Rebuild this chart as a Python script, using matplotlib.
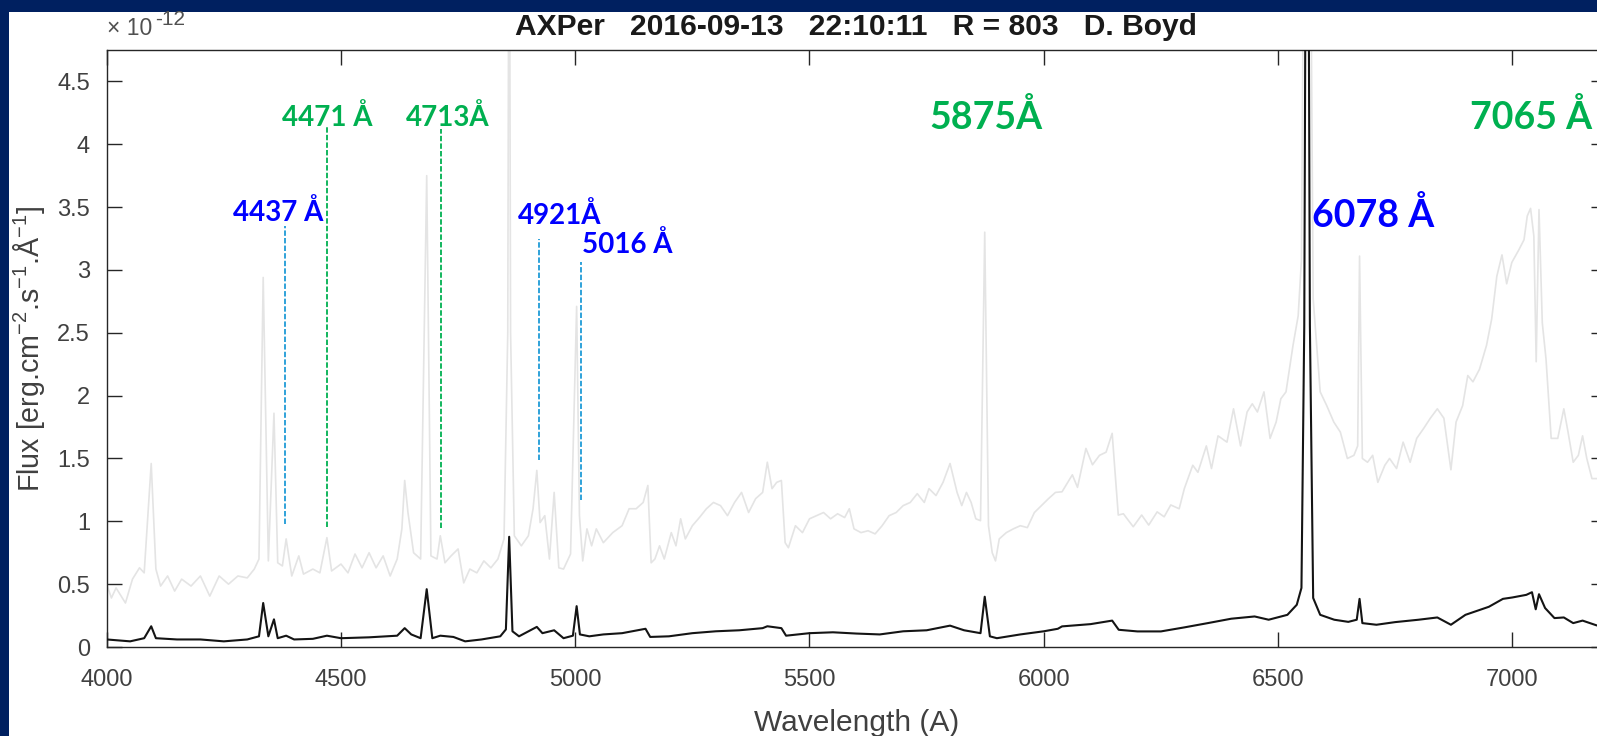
import matplotlib
matplotlib.use("Agg")
import matplotlib.pyplot as plt

plt.rcParams['font.family'] = ['Liberation Sans', 'DejaVu Sans']
plt.rcParams['mathtext.fontset'] = 'custom'
plt.rcParams['mathtext.rm'] = 'Liberation Sans'
plt.rcParams['mathtext.it'] = 'Liberation Sans'
plt.rcParams['mathtext.bf'] = 'Liberation Sans:bold'

# ---------------- data (flux in units of 1e-12) ----------------
title_text = "AXPer   2016-09-13   22:10:11   R = 803   D. Boyd"
x_label = "Wavelength (A)"
y_label = "Flux [erg.cm$^{-2}$.s$^{-1}$.Å$^{-1}$]"
scale_base = "× 10"
scale_exp = "-12"
x_ticks = [4000, 4500, 5000, 5500, 6000, 6500, 7000]
y_ticks = [0, 0.5, 1, 1.5, 2, 2.5, 3, 3.5, 4, 4.5]
y_tick_labels = ['0', '0.5', '1', '1.5', '2', '2.5', '3', '3.5', '4', '4.5']

# magnified (light grey) spectrum
grey_wl = [4000, 4010, 4020, 4040, 4055, 4070, 4080, 4095, 4105, 4115, 4130, 4145,
           4160, 4180, 4200, 4220, 4240, 4260, 4280, 4300, 4315, 4325, 4334, 4345,
           4357, 4365, 4375, 4383, 4395, 4410, 4420, 4440, 4455, 4470, 4480, 4500,
           4515, 4530, 4545, 4560, 4575, 4590, 4605, 4620, 4630, 4636, 4643, 4655,
           4670, 4683, 4692, 4705, 4712, 4722, 4735, 4750, 4762, 4775, 4790, 4805,
           4820, 4835, 4848, 4856, 4859, 4862, 4870, 4885, 4900, 4910, 4918, 4925,
           4935, 4945, 4955, 4965, 4975, 4990, 5003, 5009, 5016, 5025, 5035, 5045,
           5060, 5080, 5100, 5115, 5130, 5145, 5155, 5162, 5170, 5180, 5190, 5205,
           5215, 5225, 5235, 5250, 5265, 5280, 5295, 5310, 5325, 5340, 5355, 5370,
           5385, 5400, 5410, 5420, 5430, 5440, 5448, 5455, 5470, 5485, 5500, 5515,
           5530, 5545, 5560, 5575, 5585, 5595, 5610, 5625, 5640, 5655, 5670, 5685,
           5700, 5715, 5730, 5745, 5755, 5770, 5785, 5800, 5815, 5825, 5835, 5845,
           5855, 5865, 5874, 5882, 5890, 5897, 5905, 5920, 5935, 5950, 5965, 5980,
           5995, 6010, 6025, 6039, 6061, 6072, 6090, 6104, 6119, 6133, 6146, 6159,
           6170, 6180, 6191, 6209, 6224, 6242, 6257, 6271, 6289, 6300, 6318, 6329,
           6347, 6358, 6372, 6391, 6405, 6420, 6434, 6445, 6456, 6470, 6483, 6496,
           6506, 6517, 6532, 6543, 6550, 6556, 6562, 6568, 6575, 6590, 6604, 6619,
           6633, 6648, 6662, 6670, 6674, 6680, 6691, 6702, 6713, 6728, 6738, 6753,
           6767, 6782, 6796, 6811, 6825, 6840, 6854, 6869, 6880, 6894, 6905, 6916,
           6930, 6945, 6956, 6967, 6978, 6988, 6999, 7014, 7025, 7032, 7039, 7046,
           7051, 7057, 7064, 7072, 7083, 7097, 7110, 7119, 7130, 7141, 7150, 7159,
           7170, 7185, 7200]
grey_flux = [0.50, 0.39, 0.47, 0.35, 0.54, 0.63, 0.59, 1.46, 0.62, 0.485, 0.565, 0.445,
             0.54, 0.485, 0.565, 0.405, 0.565, 0.50, 0.565, 0.55, 0.62, 0.70, 2.94, 0.685,
             1.86, 0.67, 0.645, 0.86, 0.565, 0.725, 0.58, 0.62, 0.59, 0.87, 0.605, 0.66,
             0.59, 0.74, 0.63, 0.75, 0.63, 0.725, 0.565, 0.70, 0.94, 1.325, 1.07, 0.75,
             0.70, 3.75, 0.725, 0.70, 0.885, 0.67, 0.725, 0.78, 0.51, 0.62, 0.59, 0.685,
             0.63, 0.70, 0.86, 2.5, 7.0, 2.5, 0.885, 0.805, 0.885, 1.10, 1.405, 0.99,
             1.045, 0.70, 1.23, 0.63, 0.62, 0.74, 2.71, 1.045, 0.685, 0.94, 0.805, 0.94,
             0.83, 0.91, 0.965, 1.10, 1.10, 1.15, 1.285, 0.67, 0.70, 0.805, 0.70, 0.91,
             0.805, 1.02, 0.86, 0.965, 1.03, 1.10, 1.15, 1.125, 1.045, 1.15, 1.23, 1.07,
             1.18, 1.23, 1.47, 1.26, 1.31, 1.325, 0.83, 0.79, 0.965, 0.91, 1.02, 1.045,
             1.07, 1.02, 1.06, 1.03, 1.10, 0.94, 0.91, 0.925, 0.90, 0.965, 1.045, 1.07,
             1.125, 1.15, 1.22, 1.15, 1.26, 1.205, 1.31, 1.46, 1.23, 1.125, 1.23, 1.15,
             1.02, 1.005, 3.30, 0.965, 0.75, 0.685, 0.86, 0.91, 0.94, 0.965, 0.95, 1.07,
             1.125, 1.18, 1.23, 1.235, 1.37, 1.27, 1.58, 1.45, 1.525, 1.55, 1.70, 1.05,
             1.06, 1.01, 0.957, 1.05, 0.97, 1.075, 1.036, 1.13, 1.10, 1.26, 1.446, 1.39,
             1.60, 1.42, 1.68, 1.63, 1.895, 1.60, 1.87, 1.935, 1.87, 2.03, 1.66, 1.79,
             1.975, 2.03, 2.40, 2.635, 3.08, 6.5, 9.0, 6.5, 2.77, 2.03, 1.92, 1.79,
             1.71, 1.50, 1.525, 1.60, 3.11, 1.50, 1.47, 1.525, 1.31, 1.446, 1.50, 1.42,
             1.63, 1.47, 1.66, 1.74, 1.82, 1.895, 1.82, 1.41, 1.79, 1.92, 2.16, 2.11,
             2.21, 2.40, 2.61, 2.95, 3.12, 2.89, 3.06, 3.16, 3.24, 3.43, 3.49, 3.27,
             2.27, 3.48, 2.58, 2.29, 1.66, 1.66, 1.895, 1.71, 1.47, 1.525, 1.68, 1.50,
             1.34, 1.34, 1.30]

# observed (black) spectrum
black_wl = [4000, 4050, 4080, 4095, 4105, 4150, 4200, 4250, 4300, 4325, 4334, 4345,
            4357, 4365, 4383, 4400, 4440, 4470, 4500, 4560, 4620, 4636, 4650, 4670,
            4683, 4695, 4712, 4740, 4765, 4800, 4840, 4852, 4859, 4866, 4880, 4918,
            4930, 4955, 4975, 4995, 5003, 5010, 5030, 5060, 5100, 5150, 5160, 5200,
            5250, 5300, 5350, 5400, 5410, 5440, 5450, 5500, 5550, 5600, 5650, 5700,
            5750, 5800, 5830, 5865, 5874, 5885, 5900, 5950, 6000, 6030, 6039, 6100,
            6146, 6160, 6200, 6250, 6300, 6350, 6400, 6450, 6480, 6520, 6540, 6550,
            6556, 6562, 6568, 6575, 6590, 6620, 6650, 6668, 6674, 6680, 6710, 6750,
            6800, 6840, 6869, 6900, 6950, 6980, 7000, 7030, 7042, 7050, 7057, 7070,
            7090, 7110, 7130, 7150, 7180, 7200]
black_flux = [0.06, 0.045, 0.07, 0.165, 0.07, 0.06, 0.06, 0.045, 0.06, 0.085, 0.35, 0.085,
              0.22, 0.07, 0.09, 0.06, 0.065, 0.09, 0.07, 0.077, 0.09, 0.15, 0.10, 0.07,
              0.46, 0.07, 0.09, 0.08, 0.045, 0.06, 0.085, 0.14, 0.877, 0.125, 0.085, 0.16,
              0.11, 0.133, 0.07, 0.09, 0.325, 0.10, 0.085, 0.10, 0.11, 0.145, 0.08, 0.085,
              0.11, 0.125, 0.133, 0.15, 0.165, 0.15, 0.09, 0.11, 0.117, 0.107, 0.10, 0.125,
              0.133, 0.17, 0.133, 0.11, 0.40, 0.085, 0.07, 0.10, 0.125, 0.145, 0.164, 0.182,
              0.21, 0.137, 0.124, 0.124, 0.156, 0.19, 0.225, 0.243, 0.217, 0.256, 0.336, 0.47,
              2.56, 9.0, 2.56, 0.39, 0.256, 0.217, 0.20, 0.217, 0.383, 0.19, 0.177, 0.198,
              0.217, 0.235, 0.177, 0.256, 0.32, 0.383, 0.394, 0.415, 0.436, 0.30, 0.42, 0.31,
              0.23, 0.235, 0.19, 0.21, 0.172, 0.17]

# line identifications
marker_wl = [4381, 4471, 4714, 4923, 5012]
marker_kind = ['blue', 'green', 'green', 'blue', 'blue']
label_text = ['4437 Å', '4471 Å', '4713Å', '4921Å', '5016 Å', '5875Å', '7065 Å', '6078 Å']
label_kind = ['blue', 'green', 'green', 'blue', 'blue', 'green', 'green', 'blue']

# ---------------- layout / style ----------------
W, H = 1597, 736
fig = plt.figure(figsize=(W / 100, H / 100), dpi=100)
fig.patch.set_facecolor('#002060')
fig.add_artist(plt.Rectangle((9 / W, 0), (W - 9) / W, (H - 12) / H,
                             transform=fig.transFigure, facecolor='white',
                             edgecolor='none', zorder=0))

ax_l, ax_r, ax_t, ax_b = 106.7, 1606.0, 50.0, 647.0
ax = fig.add_axes([ax_l / W, (H - ax_b) / H, (ax_r - ax_l) / W, (ax_b - ax_t) / H])
ax.set_facecolor('white')
ax.set_xlim(4000, 7200)
ax.set_ylim(0, 4.75)

ax.plot(grey_wl, grey_flux, color='#e4e4e4', lw=1.2, zorder=2)
ax.plot(black_wl, black_flux, color='#141414', lw=1.5, zorder=3)

colors_line = {'blue': '#1f9bd7', 'green': '#00b050'}
colors_text = {'blue': '#0000ff', 'green': '#00b050'}
marker_span = [(0.98, 3.35), (0.958, 4.14), (0.95, 4.12), (1.49, 3.25), (1.17, 3.06)]
for wl, kind, (y0, y1) in zip(marker_wl, marker_kind, marker_span):
    ax.plot([wl, wl], [y0, y1], color=colors_line[kind], lw=1.3,
            linestyle=(0, (3, 1.2)), zorder=4)

label_pos = [(4365, 3.455), (4471, 4.21), (4727, 4.21), (4966, 3.435), (5111, 3.205),
             (5876, 4.215), (7039, 4.22), (6703, 3.44)]
label_size = [20, 20, 20, 20, 20, 27, 27, 27]
for txt, kind, (x, y), fs in zip(label_text, label_kind, label_pos, label_size):
    ax.text(x, y, txt, color=colors_text[kind], fontsize=fs, fontweight='bold',
            family=['Lato', 'DejaVu Sans'], ha='center', va='center', zorder=5)

ax.set_xticks(x_ticks)
ax.set_yticks(y_ticks)
ax.set_yticklabels(y_tick_labels)
ax.tick_params(direction='in', length=10.5, width=1, top=True, right=True,
               color='#262626', labelcolor='#404040', labelsize=17)
ax.tick_params(axis='x', pad=16)
ax.tick_params(axis='y', pad=12)
for s in ax.spines.values():
    s.set_color('#262626')
    s.set_linewidth(1.0)

ax.set_xlabel(x_label, fontsize=21.5, color='#404040', va='baseline')
ax.xaxis.set_label_coords(0.5, (ax_b - 731) / (ax_b - ax_t))
ax.set_ylabel(y_label, fontsize=20.6, color='#404040', va='center', ha='center')
ax.yaxis.set_label_coords((29 - ax_l) / (ax_r - ax_l), 0.5)

ax.text(0.5, (ax_b - 35) / (ax_b - ax_t), title_text, transform=ax.transAxes,
        ha='center', va='baseline', fontsize=21.6, fontweight='bold', color='#1a1a1a')
fig.text(107 / W, 1 - 35 / H, scale_base, ha='left', va='baseline',
         fontsize=16.5, color='#505050')
fig.text(155 / W, 1 - 25 / H, scale_exp, ha='left', va='baseline',
         fontsize=15, color='#505050')

fig.savefig('out.png', dpi=100, facecolor=fig.get_facecolor())
